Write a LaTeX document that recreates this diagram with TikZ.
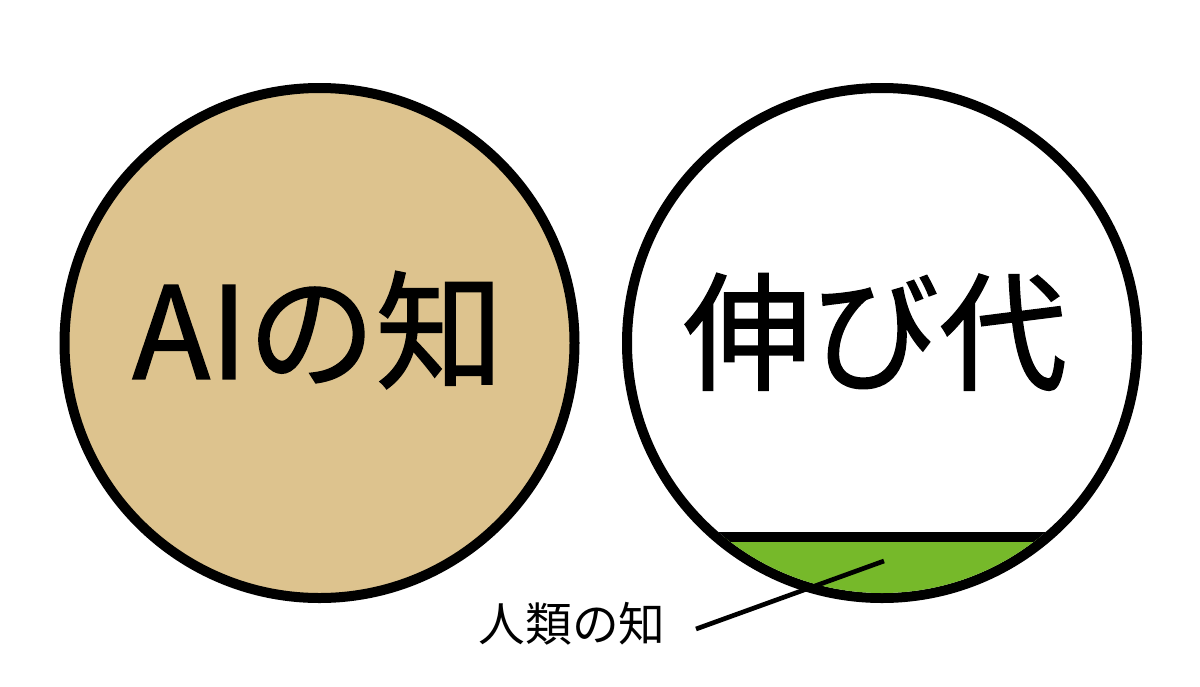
\documentclass[tikz,border=0pt]{standalone}
\usepackage{fontspec}
\newfontfamily\jp{Noto Sans CJK JP}
\newfontfamily\jpheavy[FakeBold=1.2]{Noto Sans CJK JP}
\definecolor{tanfill}{RGB}{221,195,142}
\definecolor{leaf}{RGB}{118,185,42}
\begin{document}
\begin{tikzpicture}[x=0.75pt,y=-0.75pt,
  ring/.style={circle, draw=black, line width=7.5pt, minimum size=382.5pt, inner sep=0pt},
  bigtext/.style={font=\jpheavy\fontsize{96}{96}\selectfont, inner sep=0pt},
  smalltext/.style={font=\jp\fontsize{35}{35}\selectfont, inner sep=0pt},
  pointer/.style={line width=3.5pt}]
\useasboundingbox[fill=white] (0,0) rectangle (1200,686);
\node[ring, fill=tanfill] (ai) at (319.5,343) {};
\node[ring, fill=white] (nobi) at (882,343) {};
\begin{scope}
  \clip (nobi.center) circle[radius=187.5pt];
  \fill[leaf] (600,537) rectangle (1160,620);
  \draw[line width=7.5pt] (600,537) -- (1160,537);
\end{scope}
\node[bigtext] (aitxt) at (318,330) {AIの知};
\node[bigtext] (nobitxt) at (875,332) {伸び代};
\node[smalltext] (lbl) at (572,624) {人類の知};
\coordinate (tip) at (884,561);
\coordinate (tail) at (696,629);
\draw[pointer] (tip) -- (tail);
\end{tikzpicture}
\end{document}
